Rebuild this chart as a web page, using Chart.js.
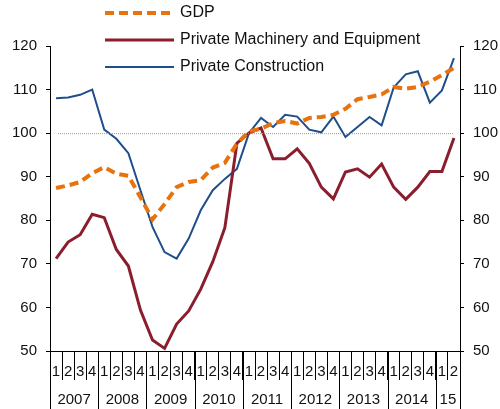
<!DOCTYPE html>
<html>
<head>
<meta charset="utf-8">
<script src="https://cdn.jsdelivr.net/npm/chart.js@4"></script>
<style>
  html, body { margin: 0; padding: 0; background: #fff; }
  #wrap { width: 500px; height: 409px; position: relative; }
</style>
</head>
<body>
<div id="wrap"><canvas id="chart"></canvas></div>
<script>
const FONT = "'Liberation Sans', Arial, sans-serif";

const quarters = ['1','2','3','4','1','2','3','4','1','2','3','4','1','2','3','4',
                  '1','2','3','4','1','2','3','4','1','2','3','4','1','2','3','4','1','2'];
const years = ['2007','2008','2009','2010','2011','2012','2013','2014','15'];
const yearSizes = [4, 4, 4, 4, 4, 4, 4, 4, 2];

const gdp = [87.4, 88.0, 88.8, 90.8, 92.2, 90.7, 90.2, 85.3, 80.2, 83.7, 87.6, 88.8, 89.2, 92.1, 93.2, 97.6,
             100.4, 101.0, 102.3, 102.8, 102.2, 103.5, 103.7, 104.2, 105.6, 107.8, 108.3, 108.9, 110.6, 110.2, 110.6, 111.8, 113.3, 115.0];
const machinery = [71.2, 75.0, 76.7, 81.4, 80.6, 73.3, 69.5, 59.4, 52.5, 50.6, 56.2, 59.2, 64.2, 70.5, 78.3, 97.7,
                   100.0, 101.2, 94.1, 94.1, 96.4, 93.1, 87.6, 84.9, 91.1, 91.8, 89.9, 92.9, 87.6, 84.8, 87.6, 91.2, 91.2, 98.9];
const construction = [108.0, 108.2, 108.8, 110.0, 100.8, 98.7, 95.4, 86.9, 78.5, 72.7, 71.2, 75.8, 82.3, 86.9, 89.5, 91.8,
                      100.0, 103.5, 101.4, 104.2, 103.8, 100.8, 100.2, 103.8, 99.1, 101.4, 103.7, 101.8, 110.5, 113.5, 114.2, 107.0, 109.8, 117.2];
const refLine = 100;

const C_GDP = '#E8730E', C_MACH = '#8B1E2D', C_CONS = '#1F4E8C';

const decor = {
  id: 'decor',
  afterDraw(chart) {
    const { ctx, chartArea: a, scales: { x, yL } } = chart;
    ctx.save();
    // dotted reference line at 100
    const y100 = yL.getPixelForValue(refLine);
    ctx.strokeStyle = '#9a9a9a'; ctx.lineWidth = 1; ctx.setLineDash([1, 1]);
    ctx.beginPath(); ctx.moveTo(a.left + 8, y100 + 0.5); ctx.lineTo(a.right - 6, y100 + 0.5); ctx.stroke();
    ctx.setLineDash([]);

    // x axis: quarter labels, year labels, year separators
    const step = x.getPixelForValue(1) - x.getPixelForValue(0);
    ctx.fillStyle = '#111'; ctx.font = '15px ' + FONT;
    ctx.textAlign = 'center'; ctx.textBaseline = 'middle';
    quarters.forEach((q, i) => ctx.fillText(q, x.getPixelForValue(i), a.bottom + 21));
    ctx.strokeStyle = '#000'; ctx.lineWidth = 1;
    let start = 0;
    const sep = px => { ctx.beginPath(); ctx.moveTo(Math.round(px) + 0.5, a.bottom); ctx.lineTo(Math.round(px) + 0.5, chart.height); ctx.stroke(); };
    sep(x.getPixelForValue(0) - step / 2);
    years.forEach((yr, k) => {
      const end = start + yearSizes[k];
      const l = x.getPixelForValue(start) - step / 2, r = x.getPixelForValue(end - 1) + step / 2;
      ctx.fillText(yr, (l + r) / 2, a.bottom + 49);
      sep(r);
      start = end;
    });

    // legend
    const items = [
      { label: 'GDP', color: C_GDP, w: 4, dash: [9, 5] },
      { label: 'Private Machinery and Equipment', color: C_MACH, w: 3, dash: [] },
      { label: 'Private Construction', color: C_CONS, w: 2, dash: [] }
    ];
    ctx.textAlign = 'left'; ctx.font = '16px ' + FONT;
    items.forEach((it, i) => {
      const yy = 13 + i * 27;
      ctx.strokeStyle = it.color; ctx.lineWidth = it.w; ctx.setLineDash(it.dash);
      ctx.beginPath(); ctx.moveTo(105, yy); ctx.lineTo(174, yy); ctx.stroke();
      ctx.setLineDash([]);
      ctx.fillText(it.label, 180, yy);
    });
    ctx.restore();
  }
};

const yAxis = (pos) => ({
  type: 'linear', position: pos, min: 50, max: 120,
  afterFit: s => { s.width = pos === 'left' ? 50 : 40; },
  ticks: { stepSize: 10, padding: 9, color: '#111', font: { family: FONT, size: 15 } },
  grid: { drawOnChartArea: false, drawTicks: true, tickLength: 4, color: '#000' },
  border: { display: true, color: '#000', width: 1 }
});

new Chart(document.getElementById('chart'), {
  type: 'line',
  data: {
    labels: quarters.map((q, i) => i),
    datasets: [
      { label: 'GDP', data: gdp, borderColor: C_GDP, borderWidth: 4, borderDash: [9, 5], yAxisID: 'yL' },
      { label: 'Private Machinery and Equipment', data: machinery, borderColor: C_MACH, borderWidth: 3, yAxisID: 'yL' },
      { label: 'Private Construction', data: construction, borderColor: C_CONS, borderWidth: 2, yAxisID: 'yL' }
    ]
  },
  options: {
    responsive: true, maintainAspectRatio: false, animation: false,
    layout: { padding: { top: 46, left: 0, right: 0, bottom: 0 } },
    elements: { point: { radius: 0 }, line: { tension: 0, fill: false, borderCapStyle: 'butt', borderJoinStyle: 'miter' } },
    plugins: { legend: { display: false }, tooltip: { enabled: false } },
    scales: {
      x: {
        type: 'category', offset: true,
        afterFit: s => { s.height = 58; },
        ticks: { display: false },
        grid: { offset: true, drawOnChartArea: false, drawTicks: true, tickLength: 29, color: '#000' },
        border: { display: true, color: '#000', width: 1 }
      },
      yL: yAxis('left'),
      yR: yAxis('right')
    }
  },
  plugins: [decor]
});
</script>
</body>
</html>
